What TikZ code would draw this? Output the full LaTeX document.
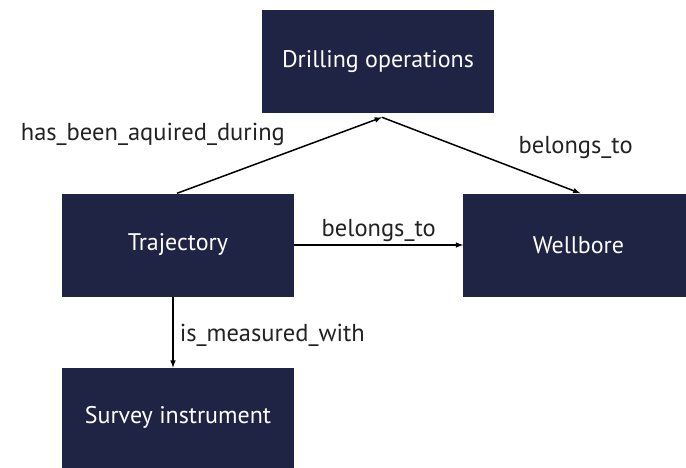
\documentclass[tikz,border=0pt]{standalone}
\usepackage{fontspec}
\setmainfont{PT Sans}
\usetikzlibrary{positioning, arrows}

\definecolor{navy}{HTML}{1F2344}
\definecolor{labelgray}{HTML}{222222}

\begin{document}
\begin{tikzpicture}[
    x=1pt, y=-1pt,
    entity/.style={fill=navy, text=white, minimum width=232pt, minimum height=103pt, font=\fontsize{24}{28}\selectfont},
    rel/.style={draw=black, line width=1.5pt, -latex},
    rel-label/.style={text=labelgray, font=\fontsize{24.5}{28}\selectfont, inner sep=2pt}
  ]

    \useasboundingbox (0,0) rectangle (686,467);

    \node[entity] (T) at (178,245) {Trajectory};
    \node[entity, right=169pt of T, minimum width=230pt] (W) {Wellbore};
    \node[entity, above=80pt of T, xshift=200pt] (D) {Drilling operations};
    \node[entity, below=71pt of T, minimum height=100pt] (S) {Survey instrument};

    \draw[rel] ([xshift=-1pt]T.north) -- ([xshift=4pt, yshift=-4pt]D.south)
      node[rel-label, pos=0.52, anchor=south east, xshift=4pt, yshift=5pt] {has\_been\_aquired\_during};
    \draw[rel] ([xshift=4pt, yshift=-4pt]D.south) -- ([xshift=2pt]W.north)
      node[rel-label, pos=0.7, anchor=south west, xshift=-5pt, yshift=9pt] {belongs\_to};
    \draw[rel] (T) -- (W)
      node[rel-label, midway, above, yshift=1pt] {belongs\_to};
    \draw[rel] ([xshift=-5pt]T.south) -- ([xshift=-5pt]S.north)
      node[rel-label, midway, right, xshift=4pt, yshift=-3pt] {is\_measured\_with};

\end{tikzpicture}
\end{document}
